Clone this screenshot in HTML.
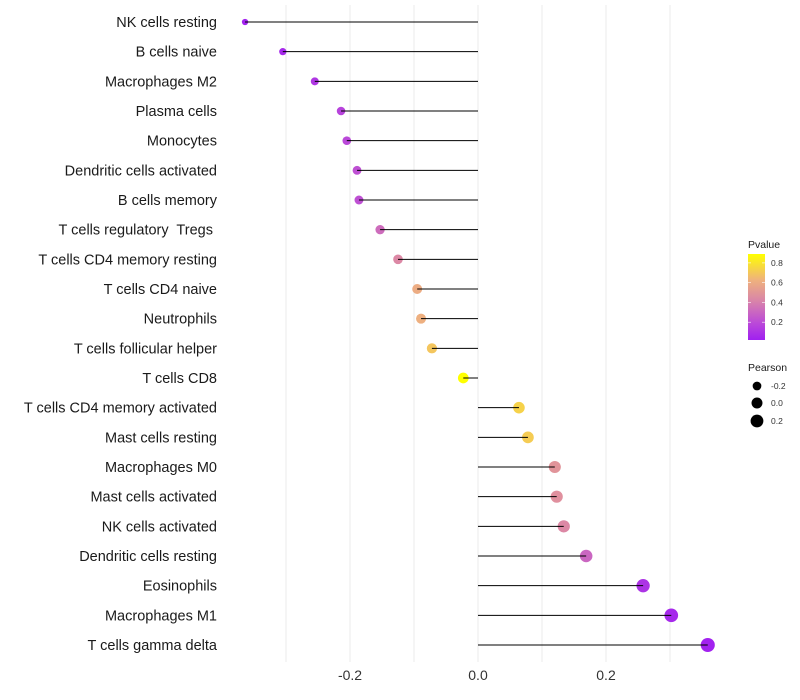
<!DOCTYPE html>
<html><head><meta charset="utf-8"><style>
html,body{margin:0;padding:0;background:#fff;}
svg{display:block;font-family:"Liberation Sans",sans-serif;}
text{white-space:pre;}
</style></head><body>
<svg id="chart" width="800" height="700">
<defs><linearGradient id="pg" x1="0" y1="1" x2="0" y2="0">
<stop offset="0" stop-color="#a020f0"/><stop offset="0.2" stop-color="#bb4ad8"/>
<stop offset="0.45" stop-color="#d883aa"/><stop offset="0.7" stop-color="#efb27c"/>
<stop offset="1" stop-color="#ffff00"/></linearGradient></defs>
</svg>
<script>
const categories=["NK cells resting","B cells naive","Macrophages M2","Plasma cells","Monocytes","Dendritic cells activated","B cells memory","T cells regulatory  Tregs ","T cells CD4 memory resting","T cells CD4 naive","Neutrophils","T cells follicular helper","T cells CD8","T cells CD4 memory activated","Mast cells resting","Macrophages M0","Mast cells activated","NK cells activated","Dendritic cells resting","Eosinophils","Macrophages M1","T cells gamma delta"];
const pearson=[-0.364,-0.305,-0.255,-0.214,-0.205,-0.189,-0.186,-0.153,-0.125,-0.095,-0.089,-0.072,-0.023,0.064,0.078,0.120,0.123,0.134,0.169,0.258,0.302,0.359];
const pvalue=[0.03,0.06,0.12,0.17,0.19,0.22,0.22,0.32,0.42,0.6,0.62,0.7,0.9,0.74,0.72,0.48,0.46,0.42,0.3,0.1,0.06,0.03];
const xTicks=[-0.2,0.0,0.2];
const xMinor=[-0.3,-0.1,0.1,0.3];
const NS="http://www.w3.org/2000/svg";
const svg=document.getElementById('chart');
const xs=v=>478+v*640;
const ys=i=>22+i*(623/21);
const rs=v=>Math.sqrt(Math.max(2.25,30+55*v));
function lerp(a,b,t){return a+(b-a)*t;}
const stops=[[0.02,[160,32,240]],[0.2,[187,74,216]],[0.42,[220,136,165]],[0.64,[240,180,124]],[0.89,[255,255,0]]];
function col(p){if(p<=stops[0][0])return 'rgb(160,32,240)';for(let k=1;k<stops.length;k++){if(p<=stops[k][0]){const t=(p-stops[k-1][0])/(stops[k][0]-stops[k-1][0]);const a=stops[k-1][1],b=stops[k][1];return `rgb(${Math.round(lerp(a[0],b[0],t))},${Math.round(lerp(a[1],b[1],t))},${Math.round(lerp(a[2],b[2],t))})`;}}return 'rgb(255,255,0)';}
function mk(tag,attrs,parent){const e=document.createElementNS(NS,tag);for(const k in attrs)e.setAttribute(k,attrs[k]);(parent||svg).appendChild(e);return e;}
xMinor.concat(xTicks).forEach(v=>{const g=mk('line',{x1:xs(v),x2:xs(v),y1:5,y2:662,stroke:'#ebebeb','stroke-width':1});

});
xTicks.forEach(v=>{const t=mk('text',{x:xs(v),y:680,'text-anchor':'middle','font-size':14,fill:'#333'});t.textContent=v.toFixed(1);

});
categories.forEach((c,i)=>{const y=ys(i);
const t=mk('text',{x:217,y:y+5,'text-anchor':'end','font-size':14.5,fill:'#1a1a1a'});t.textContent=c;


const d=mk('circle',{cx:xs(pearson[i]),cy:y,r:rs(pearson[i]),fill:col(pvalue[i])});


const l=mk('line',{x1:xs(0),x2:xs(pearson[i]),y1:y,y2:y,stroke:'#000','stroke-width':1});

});
const lg=mk('g',{});


let t=mk('text',{x:748,y:248,'font-size':10.5,fill:'#1a1a1a'},lg);t.textContent='Pvalue';
mk('rect',{x:748,y:254,width:17,height:86,fill:'url(#pg)'},lg);
[0.8,0.6,0.4,0.2].forEach(v=>{const y=340-(v-0.02)/0.87*86;
mk('line',{x1:748,x2:751,y1:y,y2:y,stroke:'#fff','stroke-width':0.6},lg);mk('line',{x1:762,x2:765,y1:y,y2:y,stroke:'#fff','stroke-width':0.6},lg);
const tt=mk('text',{x:771,y:y+3,'font-size':8.5,fill:'#333'},lg);tt.textContent=v.toFixed(1);});
t=mk('text',{x:748,y:371,'font-size':10.5,fill:'#1a1a1a'},lg);t.textContent='Pearson';
[[-0.2,386],[0.0,403],[0.2,421]].forEach(([v,y])=>{mk('circle',{cx:757,cy:y,r:rs(v),fill:'#000'},lg);
const tt=mk('text',{x:771,y:y+3,'font-size':8.5,fill:'#333'},lg);tt.textContent=v.toFixed(1);});
</script>
</body></html>
